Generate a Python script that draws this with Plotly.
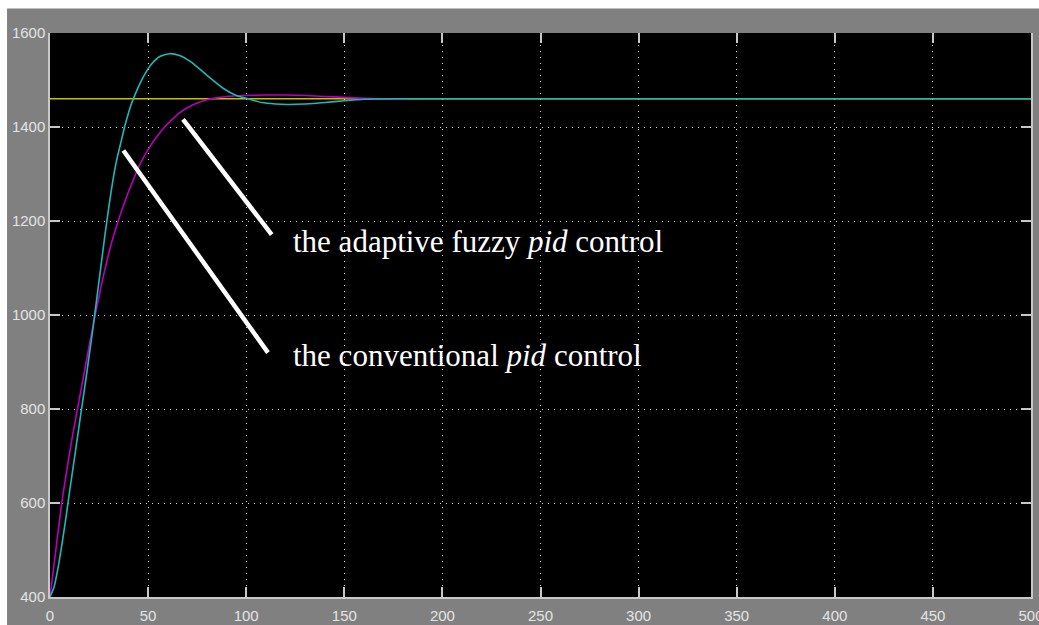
import plotly.graph_objects as go

# Step response of the speed loop: time axis and measured output
setpoint_t = [0, 500]
setpoint_y = [1460, 1460]

conv_t = [0, 2, 4, 6, 8, 10, 12, 14, 16, 18, 20, 22, 24, 26, 28, 30, 32, 34, 36,
          38, 40, 42, 45, 48, 52, 56, 61, 66, 72, 80, 88, 95, 101, 108, 115, 121,
          130, 140, 150, 160, 175, 200, 500]
conv_y = [400, 420, 460, 510, 565, 625, 682, 740, 798, 855, 915, 975, 1040, 1105,
          1170, 1230, 1285, 1330, 1365, 1400, 1430, 1455, 1485, 1510, 1535, 1550,
          1556, 1552, 1538, 1510, 1483, 1467, 1460, 1452, 1449, 1448, 1449, 1452,
          1456, 1459, 1460, 1460, 1460]

fuzzy_t = [0, 2, 4, 6, 8, 10, 12, 14, 16, 18, 20, 22, 24, 26, 28, 30, 32, 35, 38,
           42, 46, 50, 54, 58, 62, 66, 70, 75, 80, 85, 90, 100, 110, 120, 130, 140,
           150, 160, 170, 183]
fuzzy_y = [400, 467, 535, 600, 655, 707, 755, 800, 845, 890, 935, 978, 1020, 1060,
           1097, 1132, 1163, 1203, 1240, 1283, 1322, 1352, 1377, 1398, 1415, 1430,
           1441, 1451, 1458, 1462, 1465, 1467, 1468, 1468, 1467, 1465, 1463, 1461,
           1460, 1460]

x_ticks = [0, 50, 100, 150, 200, 250, 300, 350, 400, 450, 500]
y_ticks = [400, 600, 800, 1000, 1200, 1400, 1600]

# Pointer lines from the labels to the curves (data units)
pointer_fuzzy = {"t": [67.8, 113.0], "y": [1416, 1171]}
pointer_conv = {"t": [37.4, 111.1], "y": [1350, 920]}

label_fuzzy = "the adaptive fuzzy <i>pid</i> control"
label_conv = "the conventional <i>pid</i> control"

YELLOW = "#c4c000"
CYAN = "#1fb8b8"
MAGENTA = "#b800b8"
FRAME = "#c8c8c8"
GRID = "#d8d8d8"

fig = go.Figure()
fig.add_trace(go.Scatter(x=setpoint_t, y=setpoint_y, mode="lines",
                         line=dict(color=YELLOW, width=1.6), hoverinfo="skip"))
fig.add_trace(go.Scatter(x=fuzzy_t, y=fuzzy_y, mode="lines",
                         line=dict(color=MAGENTA, width=1.6, shape="spline", smoothing=0.6)))
fig.add_trace(go.Scatter(x=conv_t, y=conv_y, mode="lines",
                         line=dict(color=CYAN, width=1.6, shape="spline", smoothing=0.6)))
for p in (pointer_fuzzy, pointer_conv):
    fig.add_trace(go.Scatter(x=p["t"], y=p["y"], mode="lines",
                             line=dict(color="white", width=4.5), hoverinfo="skip"))

label_font = dict(family="Liberation Serif", size=31, color="white")
fig.add_annotation(x=123, y=1156, xref="x", yref="y", text=label_fuzzy,
                   showarrow=False, xanchor="left", yanchor="middle", font=label_font)
fig.add_annotation(x=123, y=914, xref="x", yref="y", text=label_conv,
                   showarrow=False, xanchor="left", yanchor="middle", font=label_font)

# white strips along the top and left edges of the window
fig.add_shape(type="rect", xref="paper", yref="paper", x0=-0.1, x1=1.1,
              y0=1.0435, y1=1.1, fillcolor="white", line_width=0)
fig.add_shape(type="rect", xref="paper", yref="paper", x0=-0.1, x1=-0.0438,
              y0=-0.1, y1=1.1, fillcolor="white", line_width=0)

tick_font = dict(family="Liberation Sans", size=15, color="#e4e4e4")
fig.update_layout(
    width=1039, height=625,
    margin=dict(l=50, r=8, t=33, b=28, autoexpand=False),
    paper_bgcolor="#808080", plot_bgcolor="black",
    showlegend=False,
    xaxis=dict(range=[0, 500], tickvals=x_ticks, ticks="inside", ticklen=10,
               tickcolor=FRAME, tickwidth=1.5, showline=True, linecolor=FRAME,
               linewidth=1.5, mirror=False, showgrid=True, gridcolor=GRID,
               griddash="1px,5px", gridwidth=1, zeroline=False, tickfont=tick_font,
               ticklabeloverflow="allow", ticklabelstandoff=4, automargin=False),
    xaxis2=dict(range=[0, 500], tickvals=x_ticks, ticks="inside", ticklen=10,
                tickcolor=FRAME, tickwidth=1.5, showline=False, showgrid=False,
                showticklabels=False, overlaying="x", side="top", zeroline=False,
                automargin=False),
    yaxis=dict(range=[400, 1600], tickvals=y_ticks, ticks="inside", ticklen=10,
               tickcolor=FRAME, tickwidth=1.5, showline=True, linecolor=FRAME,
               linewidth=1.5, mirror="ticks", showgrid=True, gridcolor=GRID,
               griddash="1px,5px", gridwidth=1, zeroline=False, tickfont=tick_font,
               automargin=False),
)
fig.add_trace(go.Scatter(x=[], y=[], xaxis="x2", hoverinfo="skip"))

fig.write_html("out.html")
